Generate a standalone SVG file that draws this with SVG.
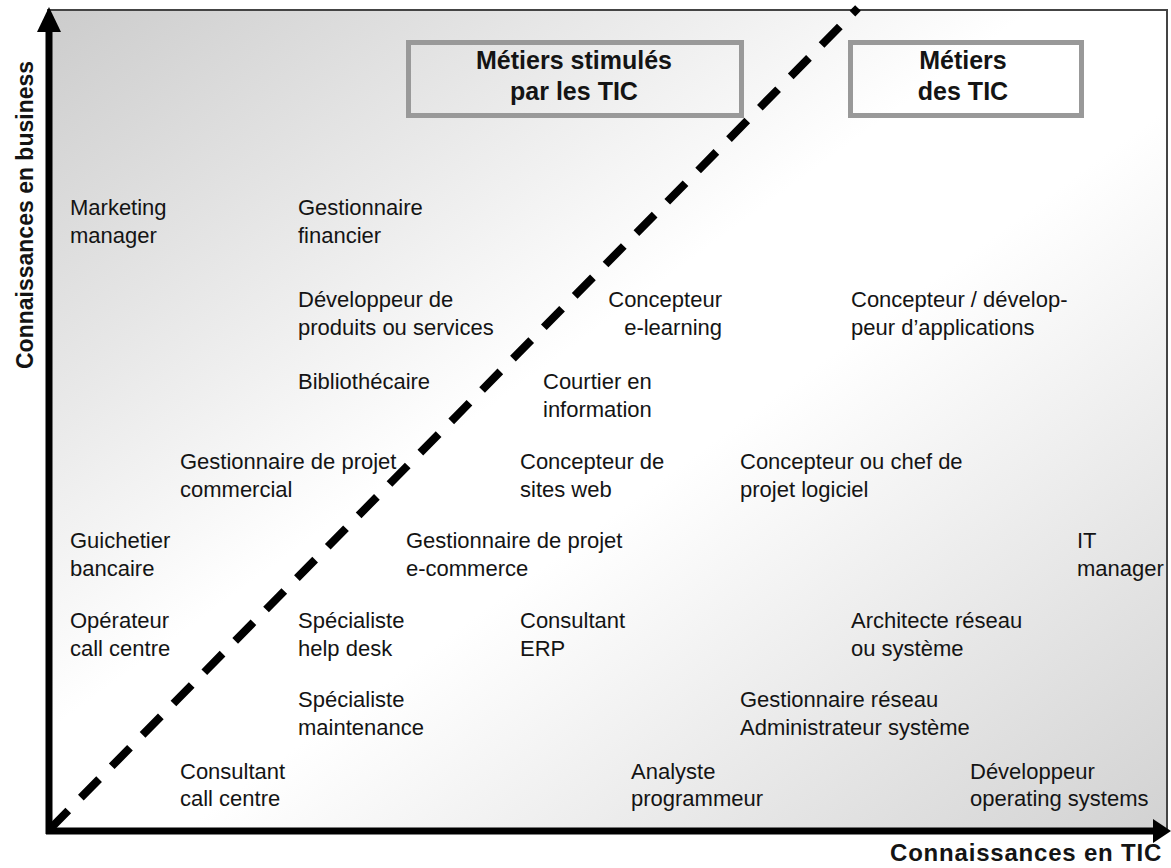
<svg xmlns="http://www.w3.org/2000/svg" width="1171" height="868" viewBox="0 0 1171 868">
  <defs>
    <linearGradient id="bg" x1="0" y1="0" x2="1" y2="1">
      <stop offset="0" stop-color="#cccccc"/>
      <stop offset="0.44" stop-color="#ffffff"/>
      <stop offset="0.56" stop-color="#ffffff"/>
      <stop offset="1" stop-color="#d2d2d2"/>
    </linearGradient>
    <style>
      .lbl { font-family: "Liberation Sans", Arial, sans-serif; font-size: 22px; fill: #141414; }
      .ttl { font-family: "Liberation Sans", Arial, sans-serif; font-size: 25px; font-weight: bold; fill: #141414; text-anchor: middle; }
      .ax { font-family: "Liberation Sans", Arial, sans-serif; font-weight: bold; fill: #141414; }
      .box { fill: none; stroke: #999999; stroke-width: 5; }
      .axis { stroke: #000; stroke-width: 7; fill: none; }
    </style>
  </defs>

  <rect width="1171" height="868" fill="#ffffff"/>

  <!-- plot area -->
  <rect x="48" y="10" width="1119" height="820" fill="url(#bg)" stroke="#444444" stroke-width="2"/>

  <!-- category boxes -->
  <g id="box-stimules">
    <rect class="box" x="408.5" y="42.5" width="333" height="73"/>
    <text class="ttl" x="574" y="69">Métiers stimulés</text>
    <text class="ttl" x="574" y="100">par les TIC</text>
  </g>
  <g id="box-tic">
    <rect class="box" x="850.5" y="42.5" width="231" height="73"/>
    <text class="ttl" x="963" y="69">Métiers</text>
    <text class="ttl" x="963" y="100">des TIC</text>
  </g>

  <!-- axes and the dividing diagonal -->
  <g id="connectors">
    <line x1="50" y1="829" x2="858" y2="8" stroke="#000" stroke-width="8" stroke-dasharray="26 18"/>
    <line class="axis" x1="49" y1="834" x2="49" y2="28"/>
    <polygon points="49,7 37,32 61,32" fill="#000"/>
    <line class="axis" x1="46" y1="831" x2="1156" y2="831"/>
    <polygon points="1171,831 1153,819 1153,843" fill="#000"/>
  </g>

  <!-- axis titles -->
  <text class="ax" font-size="23" transform="translate(33,369) rotate(-90)">Connaissances en business</text>
  <text class="ax" font-size="24" letter-spacing="0.8" x="890" y="861">Connaissances en TIC</text>

  <!-- job labels -->
  <g id="marketing-manager"><text class="lbl" x="70" y="215">Marketing</text><text class="lbl" x="70" y="243">manager</text></g>
  <g id="gestionnaire-financier"><text class="lbl" x="298" y="215">Gestionnaire</text><text class="lbl" x="298" y="243">financier</text></g>
  <g id="developpeur-produits"><text class="lbl" x="298" y="307">Développeur de</text><text class="lbl" x="298" y="335">produits ou services</text></g>
  <g id="concepteur-elearning"><text class="lbl" x="722" y="307" text-anchor="end">Concepteur</text><text class="lbl" x="722" y="335" text-anchor="end">e-learning</text></g>
  <g id="concepteur-applications"><text class="lbl" x="851" y="307">Concepteur / dévelop-</text><text class="lbl" x="851" y="335">peur d’applications</text></g>
  <g id="bibliothecaire"><text class="lbl" x="298" y="389">Bibliothécaire</text></g>
  <g id="courtier-information"><text class="lbl" x="543" y="389">Courtier en</text><text class="lbl" x="543" y="417">information</text></g>
  <g id="gestionnaire-commercial"><text class="lbl" x="180" y="469">Gestionnaire de projet</text><text class="lbl" x="180" y="497">commercial</text></g>
  <g id="concepteur-sites"><text class="lbl" x="520" y="469">Concepteur de</text><text class="lbl" x="520" y="497">sites web</text></g>
  <g id="chef-projet-logiciel"><text class="lbl" x="740" y="469">Concepteur ou chef de</text><text class="lbl" x="740" y="497">projet logiciel</text></g>
  <g id="guichetier"><text class="lbl" x="70" y="548">Guichetier</text><text class="lbl" x="70" y="576">bancaire</text></g>
  <g id="gestionnaire-ecommerce"><text class="lbl" x="406" y="548">Gestionnaire de projet</text><text class="lbl" x="406" y="576">e-commerce</text></g>
  <g id="it-manager"><text class="lbl" x="1077" y="548">IT</text><text class="lbl" x="1077" y="576">manager</text></g>
  <g id="operateur-call-centre"><text class="lbl" x="70" y="628">Opérateur</text><text class="lbl" x="70" y="656">call centre</text></g>
  <g id="specialiste-help-desk"><text class="lbl" x="298" y="628">Spécialiste</text><text class="lbl" x="298" y="656">help desk</text></g>
  <g id="consultant-erp"><text class="lbl" x="520" y="628">Consultant</text><text class="lbl" x="520" y="656">ERP</text></g>
  <g id="architecte-reseau"><text class="lbl" x="851" y="628">Architecte réseau</text><text class="lbl" x="851" y="656">ou système</text></g>
  <g id="specialiste-maintenance"><text class="lbl" x="298" y="707">Spécialiste</text><text class="lbl" x="298" y="735">maintenance</text></g>
  <g id="gestionnaire-reseau"><text class="lbl" x="740" y="707">Gestionnaire réseau</text><text class="lbl" x="740" y="735">Administrateur système</text></g>
  <g id="consultant-call-centre"><text class="lbl" x="180" y="779">Consultant</text><text class="lbl" x="180" y="806">call centre</text></g>
  <g id="analyste-programmeur"><text class="lbl" x="631" y="779">Analyste</text><text class="lbl" x="631" y="806">programmeur</text></g>
  <g id="developpeur-os"><text class="lbl" x="970" y="779">Développeur</text><text class="lbl" x="970" y="806">operating systems</text></g>
</svg>
